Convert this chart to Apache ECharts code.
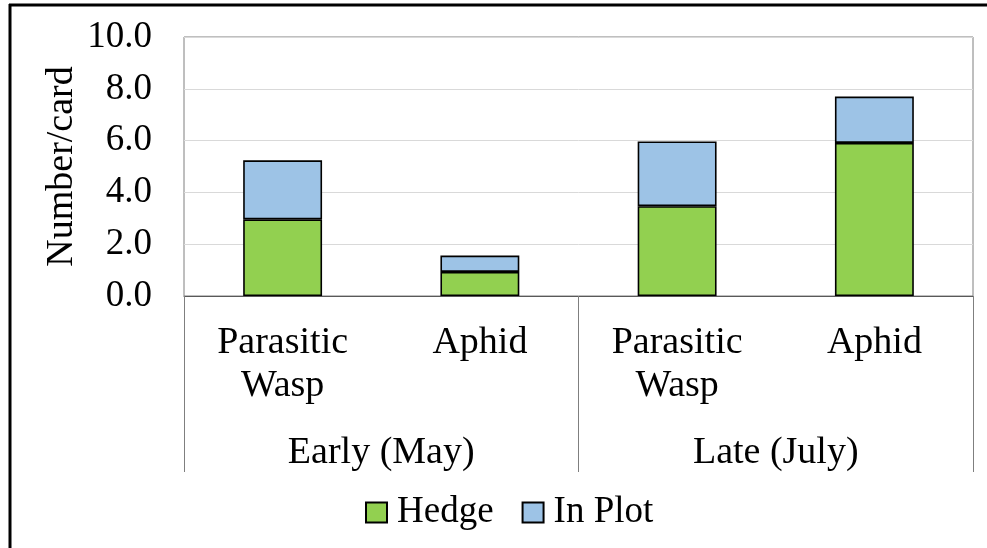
<!DOCTYPE html>
<html>
<head>
<meta charset="utf-8">
<script src="https://cdn.jsdelivr.net/npm/echarts@6/dist/echarts.min.js"></script>
<style>
  html, body { margin: 0; padding: 0; background: #fff; }
  #chart { width: 987px; height: 548px; }
</style>
</head>
<body>
<div id="chart"></div>
<script>
// data
var categories = ["Parasitic\nWasp", "Aphid", "Parasitic\nWasp", "Aphid"];
var periods = ["Early (May)", "Late (July)"];
var hedge = [2.96, 0.93, 3.47, 5.91];
var inPlot = [2.28, 0.63, 2.50, 1.79];
var yTicks = [0, 10, 2]; // min, max, interval

var font = "'Liberation Serif', 'Times New Roman', serif";
var myChart = echarts.init(document.getElementById("chart"), null, { renderer: "canvas" });
var option;

option = {
  backgroundColor: "#fff",
  textStyle: { fontFamily: font },
  animation: false,
  grid: {
    left: 184,
    right: 14,
    top: 37,
    bottom: 252,
    show: true,
    borderColor: "#7f7f7f",
    borderWidth: 1,
  },
  legend: {
    left: 360,
    top: 489,
    itemWidth: 21,
    itemHeight: 20,
    itemGap: 28,
    icon: "rect",
    textStyle: { fontFamily: font, fontSize: 37, color: "#000", padding: [0, 0, 0, 5] },
    data: ["Hedge", "In Plot"],
  },
  xAxis: [
    {
      type: "category",
      data: categories,
      axisLine: { lineStyle: { color: "#595959", width: 1 } },
      axisTick: { show: false },
      axisLabel: {
        fontFamily: font,
        fontSize: 38,
        lineHeight: 43,
        color: "#000",
        margin: 26,
        interval: 0,
      },
    },
    {
      type: "category",
      data: periods,
      position: "bottom",
      axisLine: { show: false },
      axisTick: { show: true, length: 176, lineStyle: { color: "#7f7f7f" } },
      axisLabel: {
        fontFamily: font,
        fontSize: 38,
        color: "#000",
        margin: 138,
      },
    },
  ],
  yAxis: {
    type: "value",
    min: yTicks[0],
    max: yTicks[1],
    interval: yTicks[2],
    name: "Number/card",
    nameLocation: "middle",
    nameRotate: 90,
    nameGap: 103,
    nameMoveOverlap: false,
    nameTextStyle: { fontFamily: font, fontSize: 38, color: "#000" },
    axisLine: { show: false },
    axisTick: { show: false },
    axisLabel: {
      fontFamily: font,
      fontSize: 37,
      color: "#000",
      margin: 32,
      padding: [4, 0, 0, 0],
      formatter: function (v) { return v.toFixed(1); },
    },
    splitLine: { lineStyle: { color: "#d9d9d9", width: 1 } },
  },
  series: [
    {
      name: "Hedge",
      type: "bar",
      stack: "total",
      barWidth: "40%",
      data: hedge,
      itemStyle: { color: "#92d050", borderColor: "#000", borderWidth: 1.6 },
    },
    {
      name: "In Plot",
      type: "bar",
      stack: "total",
      barWidth: "40%",
      data: inPlot,
      itemStyle: { color: "#9dc3e6", borderColor: "#000", borderWidth: 1.6 },
    },
  ],
  // outer frame (only top and left are visible in the crop)
  graphic: [
    { type: "line", shape: { x1: 9, y1: 5, x2: 987, y2: 5 }, style: { stroke: "#000", lineWidth: 3 } },
    { type: "line", shape: { x1: 10, y1: 4, x2: 10, y2: 548 }, style: { stroke: "#000", lineWidth: 3 } },
  ],
};

option && myChart.setOption(option);
</script>
</body>
</html>
